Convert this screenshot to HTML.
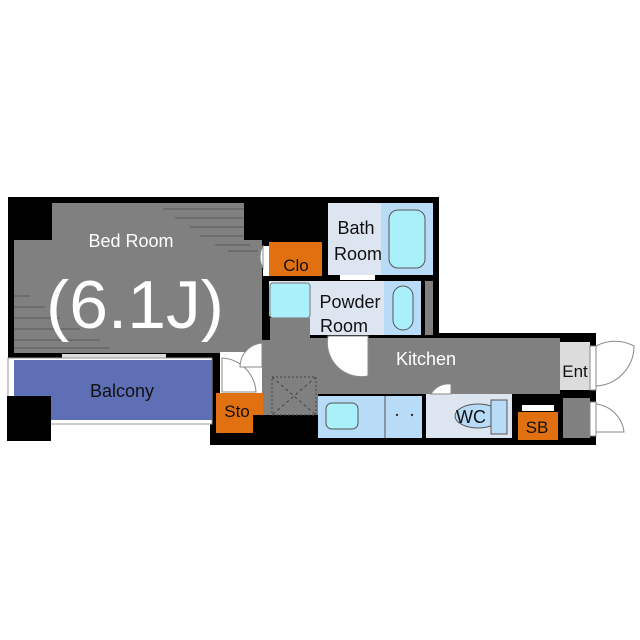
<!DOCTYPE html>
<html><head><style>body{margin:0;background:#fff}svg{display:block}text{font-family:"Liberation Sans",sans-serif}</style></head><body>
<svg width="640" height="640" viewBox="0 0 640 640" xmlns="http://www.w3.org/2000/svg">
<rect width="640" height="640" fill="#fff"/>
<rect x="8" y="197" width="320" height="163" fill="#000"/>
<rect x="322" y="197" width="117" height="145" fill="#000"/>
<rect x="262" y="333" width="334" height="112" fill="#000"/>
<rect x="210" y="352" width="60" height="93" fill="#000"/>
<rect x="14" y="240" width="248" height="113" fill="#808080"/>
<rect x="52" y="203" width="192" height="40" fill="#808080"/>
<g stroke="#5a5a5a" stroke-width="1">
<line x1="163" y1="209" x2="244" y2="209"/><line x1="175" y1="218" x2="244" y2="218"/><line x1="190" y1="227" x2="244" y2="227"/><line x1="200" y1="236" x2="244" y2="236"/><line x1="215" y1="245" x2="250" y2="245"/><line x1="228" y1="251" x2="258" y2="251"/>
<line x1="14" y1="296" x2="30" y2="296"/><line x1="14" y1="307" x2="45" y2="307"/><line x1="14" y1="318" x2="60" y2="318"/><line x1="14" y1="329" x2="80" y2="329"/><line x1="14" y1="340" x2="100" y2="340"/><line x1="14" y1="348" x2="110" y2="348"/>
</g>
<rect x="62" y="354" width="104" height="4" fill="#ddd"/>
<text x="131" y="247" font-size="18" fill="#fff" text-anchor="middle">Bed Room</text>
<text x="135" y="328" font-size="68" fill="#fff" text-anchor="middle" textLength="178" lengthAdjust="spacingAndGlyphs">(6.1J)</text>
<rect x="8" y="358" width="204" height="66" fill="#fff" stroke="#999" stroke-width="1"/>
<rect x="14" y="360" width="198" height="60" fill="#5f6fb5"/>
<rect x="7" y="396" width="44" height="45" fill="#000"/>
<text x="122" y="397" font-size="18" fill="#111" text-anchor="middle">Balcony</text>
<rect x="220" y="352" width="42" height="42" fill="#fff"/>
<path d="M222 358 A36 36 0 0 1 256 392 L222 392Z" fill="#fff" stroke="#888"/>
<rect x="262" y="340" width="8" height="75" fill="#808080"/>
<path d="M262 343 A24 24 0 0 0 240 367 L262 367Z" fill="#fff" stroke="#888"/>
<rect x="216" y="393" width="47" height="40" fill="#e07010"/>
<rect x="253" y="415" width="70" height="25" fill="#000"/>
<text x="237" y="417" font-size="17" fill="#111" text-anchor="middle">Sto</text>
<rect x="269" y="242" width="53" height="34" fill="#e07010"/>
<rect x="263" y="246" width="6" height="30" fill="#fff"/>
<path d="M263 246 A22 22 0 0 0 263 268Z" fill="#fff" stroke="#888"/>
<text x="296" y="271" font-size="17" fill="#111" text-anchor="middle">Clo</text>
<rect x="328" y="203" width="53" height="72" fill="#dde6f0"/>
<rect x="381" y="203" width="52" height="72" fill="#b8dcf8"/>
<rect x="389" y="210" width="36" height="58" rx="9" fill="#aaf0fa" stroke="#555"/>
<text x="356" y="234" font-size="18" fill="#111" text-anchor="middle">Bath</text>
<text x="358" y="260" font-size="18" fill="#111" text-anchor="middle">Room</text>
<rect x="340" y="275" width="35" height="5" fill="#fff"/>
<rect x="269" y="281" width="115" height="35" fill="#dde6f0"/>
<rect x="309" y="281" width="75" height="54" fill="#dde6f0"/>
<rect x="384" y="281" width="37" height="54" fill="#b8dcf8"/>
<rect x="270" y="283" width="40" height="35" rx="3" fill="#aaf0fa" stroke="#777"/>
<rect x="393" y="286" width="20" height="44" rx="10" fill="#aaf0fa" stroke="#555"/>
<rect x="425" y="281" width="8" height="54" fill="#808080"/>
<text x="350" y="308" font-size="18" fill="#111" text-anchor="middle">Powder</text>
<text x="344" y="332" font-size="18" fill="#111" text-anchor="middle">Room</text>
<rect x="270" y="338" width="290" height="56" fill="#808080"/>
<rect x="270" y="318" width="40" height="30" fill="#808080"/>
<rect x="270" y="390" width="48" height="25" fill="#808080"/>
<rect x="272" y="377" width="44" height="38" fill="none" stroke="#444" stroke-dasharray="2,2"/>
<path d="M272 377 L316 415 M316 377 L272 415" stroke="#444" stroke-dasharray="3,3"/>
<path d="M328 336 A34 34 0 0 0 368 376 L368 336Z" fill="#fff" stroke="#888"/>
<text x="426" y="365" font-size="18" fill="#fff" text-anchor="middle">Kitchen</text>
<rect x="560" y="342" width="30" height="48" fill="#dcdcdc"/>
<text x="575" y="377" font-size="17" fill="#111" text-anchor="middle">Ent</text>
<rect x="318" y="396" width="104" height="42" fill="#b8dcf8"/>
<line x1="385" y1="396" x2="385" y2="438" stroke="#555"/>
<rect x="326" y="403" width="32" height="26" rx="6" fill="#aaf0fa" stroke="#555"/>
<circle cx="397" cy="415" r="1.2" fill="#333"/><circle cx="412" cy="415" r="1.2" fill="#333"/>
<rect x="426" y="394" width="86" height="44" fill="#dde6f0"/>
<path d="M431 394 A20 20 0 0 1 451 384 L451 394Z" fill="#fff" stroke="#888"/>
<ellipse cx="478" cy="416" rx="23" ry="12" fill="#b8dcf8" stroke="#555"/>
<rect x="491" y="400" width="16" height="34" fill="#b8dcf8" stroke="#555"/>
<text x="471" y="423" font-size="18" fill="#111" text-anchor="middle">WC</text>
<rect x="518" y="412" width="40" height="28" fill="#e07010"/>
<rect x="522" y="405" width="32" height="6" fill="#fff"/>
<text x="537" y="433" font-size="17" fill="#111" text-anchor="middle">SB</text>
<rect x="563" y="398" width="27" height="40" fill="#808080"/>
<rect x="590" y="346" width="6" height="44" fill="#fff" stroke="#888"/>
<path d="M596 346 A40 40 0 0 1 634 346 A40 40 0 0 1 596 386" fill="none" stroke="#888"/>
<rect x="590" y="402" width="6" height="34" fill="#fff" stroke="#888"/>
<path d="M596 404 A32 32 0 0 1 624 432 L596 432" fill="none" stroke="#888"/>
</svg>
</body></html>
